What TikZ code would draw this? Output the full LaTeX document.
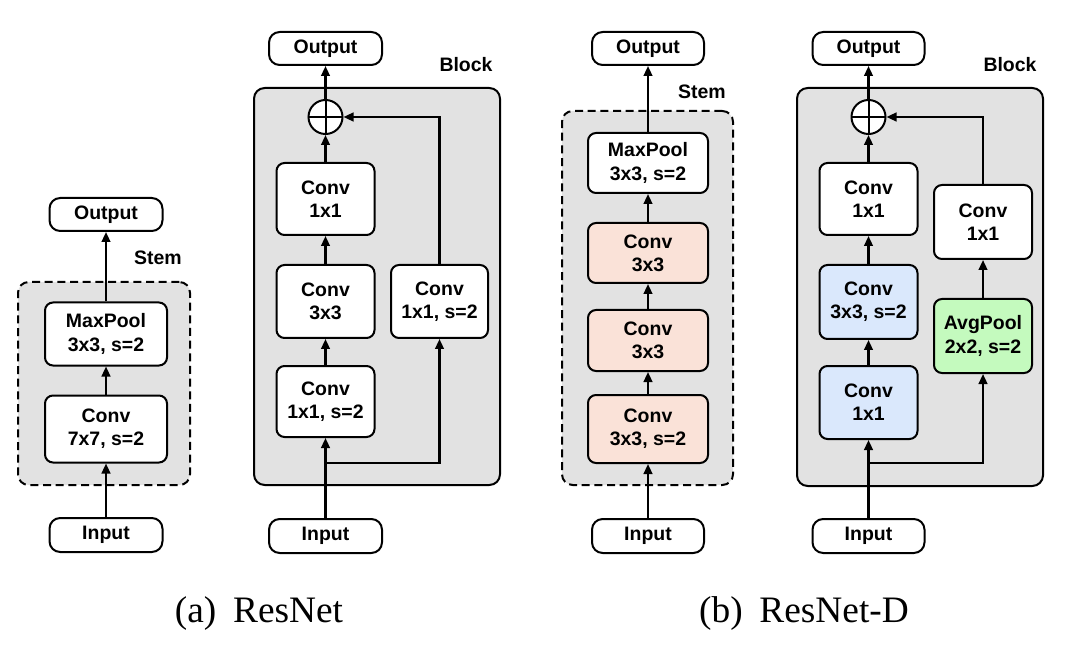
\documentclass[tikz,border=0pt]{standalone}
\usepackage{fontspec}
\setmainfont{Liberation Sans}
\newfontfamily\capfont{Liberation Serif}
\usetikzlibrary{arrows.meta}
\definecolor{bggray}{RGB}{226,226,226}
\definecolor{pinkfill}{RGB}{250,226,216}
\definecolor{bluefill}{RGB}{218,232,252}
\definecolor{greenfill}{RGB}{196,250,190}
\tikzset{
  sz/.style 2 args={minimum width=#1*0.75pt, minimum height=#2*0.75pt},
  txt/.style={font=\bfseries\fontsize{14.6}{17.5}\selectfont},
  op/.style={txt, draw, line width=1.5pt, rounded corners=6pt, fill=white, align=center, inner sep=0pt},
  io/.style={op, rounded corners=8pt},
  stembox/.style={draw, dashed, dash pattern=on 6pt off 3.5pt, line width=1.5pt, fill=bggray, rounded corners=8pt, inner sep=0pt},
  blockbox/.style={draw, line width=1.5pt, fill=bggray, rounded corners=8pt, inner sep=0pt},
  arr/.style={line width=1.6pt, -{Triangle[length=7.5pt,width=6.5pt]}},
  plus/.style={circle, draw, line width=1.5pt, fill=white, minimum size=34*0.75pt, inner sep=0pt,
    path picture={\draw[line width=1.5pt] (path picture bounding box.north) -- (path picture bounding box.south)
      (path picture bounding box.west) -- (path picture bounding box.east);}},
  lbl/.style={txt},
  captext/.style={font=\capfont\fontsize{28}{32}\selectfont}
}
\begin{document}
\begin{tikzpicture}[x=0.75pt,y=-0.75pt]
\useasboundingbox (0,0) rectangle (1070,648);
% ---------- (a) Stem ----------
\node[stembox, sz={172}{203}] (stem1) at (104,383.5) {};
\node[lbl] (stemlbl1) at (158,258) {Stem};
\node[io, sz={113}{33}] (out1) at (106,214.5) {Output};
\node[op, sz={122}{63}] (mp1) at (106,334) {MaxPool\\3x3, s=2};
\node[op, sz={122}{67}] (cv1) at (106,429) {Conv\\7x7, s=2};
\node[io, sz={113}{34}] (in1) at (106,535) {Input};
\draw[arr] (in1) -- (cv1);
\draw[arr] (cv1) -- (mp1);
\draw[arr] (mp1) -- (out1);
% ---------- (a) Block ----------
\node[blockbox, sz={246}{397}] (block2) at (377,286.5) {};
\node[lbl] (blocklbl2) at (466,65) {Block};
\node[io, sz={113}{33}] (out2) at (325.5,48.5) {Output};
\node[plus] (plus2) at (325.5,117) {};
\node[op, sz={98}{72}] (c2a) at (325.5,199) {Conv\\1x1};
\node[op, sz={98}{73}] (c2b) at (325.5,301.5) {Conv\\3x3};
\node[op, sz={98}{71}] (c2c) at (325.5,401.5) {Conv\\1x1, s=2};
\node[op, sz={97}{73}] (c2d) at (439.5,301.5) {Conv\\1x1, s=2};
\node[io, sz={113}{34}] (in2) at (325.5,536) {Input};
\coordinate (br2) at (325.5,463);
\draw[arr] (in2) -- (c2c);
\draw[arr] (c2c) -- (c2b);
\draw[arr] (c2b) -- (c2a);
\draw[arr] (c2a) -- (plus2);
\draw[arr] (plus2) -- (out2);
\draw[arr] (br2) -| (c2d);
\draw[arr] (c2d) |- (plus2);
% ---------- (b) Stem ----------
\node[stembox, sz={171}{374}] (stem3) at (647.5,298) {};
\node[lbl] (stemlbl3) at (702,92) {Stem};
\node[io, sz={112}{33}] (out3) at (648,48.5) {Output};
\node[op, sz={120}{60}] (mp3) at (648,163) {MaxPool\\3x3, s=2};
\node[op, sz={120}{60}, fill=pinkfill] (p3a) at (648,253) {Conv\\3x3};
\node[op, sz={120}{61}, fill=pinkfill] (p3b) at (648,340.5) {Conv\\3x3};
\node[op, sz={120}{68}, fill=pinkfill] (p3c) at (648,429) {Conv\\3x3, s=2};
\node[io, sz={112}{34}] (in3) at (648,536) {Input};
\draw[arr] (in3) -- (p3c);
\draw[arr] (p3c) -- (p3b);
\draw[arr] (p3b) -- (p3a);
\draw[arr] (p3a) -- (mp3);
\draw[arr] (mp3) -- (out3);
% ---------- (b) Block ----------
\node[blockbox, sz={246}{398}] (block4) at (920,287) {};
\node[lbl] (blocklbl4) at (1010,65) {Block};
\node[io, sz={112}{33}] (out4) at (868.5,48.5) {Output};
\node[plus] (plus4) at (868.5,117) {};
\node[op, sz={98}{72}] (c4a) at (868.5,199) {Conv\\1x1};
\node[op, sz={98}{74}, fill=bluefill] (c4b) at (868.5,302) {Conv\\3x3, s=2};
\node[op, sz={98}{73}, fill=bluefill] (c4c) at (868.5,402.5) {Conv\\1x1};
\node[op, sz={98}{74}] (c4d) at (983,222) {Conv\\1x1};
\node[op, sz={98}{74}, fill=greenfill] (c4e) at (983,336) {AvgPool\\2x2, s=2};
\node[io, sz={112}{34}] (in4) at (868.5,536) {Input};
\coordinate (br4) at (868.5,463);
\draw[arr] (in4) -- (c4c);
\draw[arr] (c4c) -- (c4b);
\draw[arr] (c4b) -- (c4a);
\draw[arr] (c4a) -- (plus4);
\draw[arr] (plus4) -- (out4);
\draw[arr] (br4) -| (c4e);
\draw[arr] (c4e) -- (c4d);
\draw[arr] (c4d) |- (plus4);
% ---------- captions ----------
\node[captext] (capa) at (259,614) {(a)\hspace{0.45em}ResNet};
\node[captext] (capb) at (804,614) {(b)\hspace{0.45em}ResNet-D};
\end{tikzpicture}
\end{document}
